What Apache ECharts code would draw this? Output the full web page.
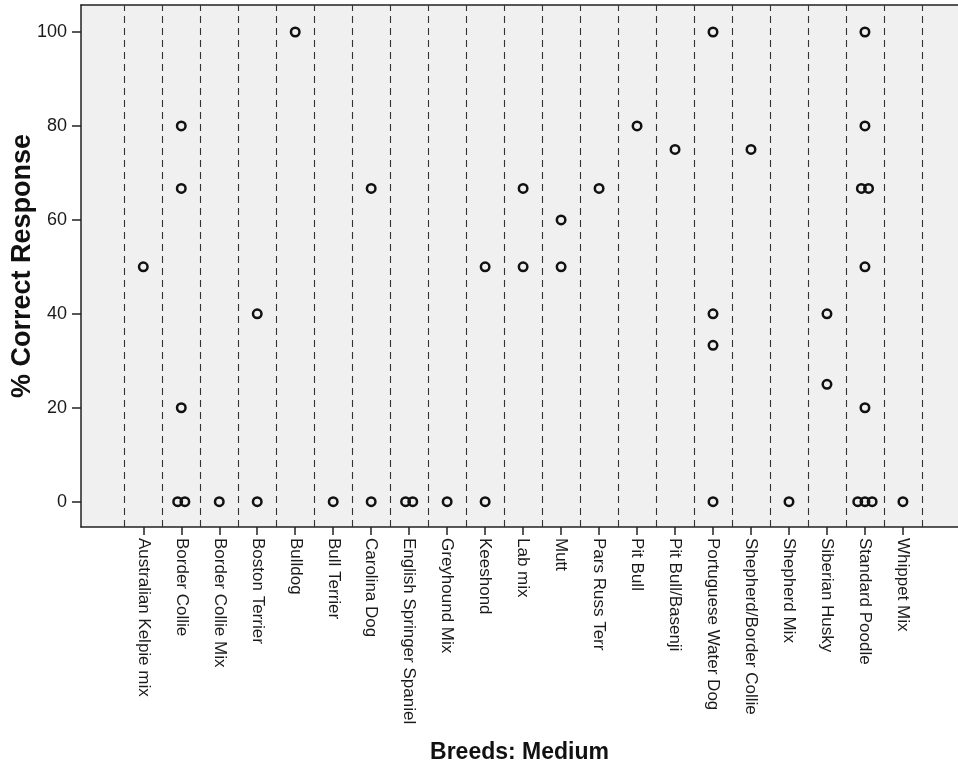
<!DOCTYPE html>
<html><head><meta charset="utf-8">
<script src="https://cdn.jsdelivr.net/npm/echarts@6/dist/echarts.min.js"></script>
<style>html,body{margin:0;padding:0;background:#fff}#c{width:958px;height:771px}</style>
</head><body><div id="c"></div>
<script>
const breeds = ['Australian Kelpie mix','Border Collie','Border Collie Mix','Boston Terrier','Bulldog','Bull Terrier','Carolina Dog','English Springer Spaniel','Greyhound Mix','Keeshond','Lab mix','Mutt','Pars Russ Terr','Pit Bull','Pit Bull/Basenji','Portuguese Water Dog','Shepherd/Border Collie','Shepherd Mix','Siberian Husky','Standard Poodle','Whippet Mix'];
const responses = [
  [50],
  [80, 66.7, 20, 0, 0],
  [0],
  [40, 0],
  [100],
  [0],
  [66.7, 0],
  [0, 0],
  [0],
  [50, 0],
  [66.7, 50],
  [60, 50],
  [66.7],
  [80],
  [75],
  [100, 40, 33.3, 0],
  [75],
  [0],
  [40, 25],
  [100, 80, 66.7, 66.7, 50, 20, 0, 0, 0],
  [0]
];
const yTicks = [0, 20, 40, 60, 80, 100];
const xTitle = 'Breeds: Medium';
const yTitle = '% Correct Response';

const catIdx = breeds.map((b, i) => i);
const points = [];
responses.forEach((vals, i) => {
  const counts = {}, seen = {};
  vals.forEach(v => { counts[v] = (counts[v] || 0) + 1; });
  vals.forEach(v => {
    const n = counts[v], k = seen[v] || 0; seen[v] = k + 1;
    points.push({ value: [i, v], symbolOffset: [(k - (n - 1) / 2) * 7.2, 0] });
  });
});
const dividers = [];
for (let i = -1; i < breeds.length; i++) dividers.push({ xAxis: i + 0.5 });

const FONT = 'Liberation Sans, Arial, sans-serif';
const X_MIN = -1.64, X_MAX = 21.45;
const chart = echarts.init(document.getElementById('c'), null, { renderer: 'canvas' });
chart.setOption({
  animation: false,
  backgroundColor: '#ffffff',
  textStyle: { fontFamily: FONT },
  grid: { left: 81, top: 5, right: 0, bottom: 244, outerBoundsMode: 'none',
    show: true, backgroundColor: '#f0f0f0', borderWidth: 0 },
  xAxis: [{
    type: 'value', min: X_MIN, max: X_MAX, position: 'bottom',
    name: xTitle, nameLocation: 'middle', nameGap: 214, nameMoveOverlap: false,
    nameTextStyle: { fontSize: 23, fontWeight: 'bold', color: '#111', fontFamily: FONT },
    axisLine: { show: true, onZero: false, lineStyle: { color: '#222', width: 1.5 } },
    axisTick: { show: true, customValues: catIdx, length: 8, lineStyle: { color: '#222', width: 1.5 } },
    axisLabel: { customValues: catIdx, rotate: -90, fontSize: 17, color: '#1a1a1a', margin: 11, fontFamily: FONT,
      formatter: v => breeds[Math.round(v)] || '' },
    splitLine: { show: false }
  }, {
    type: 'value', min: X_MIN, max: X_MAX, position: 'top',
    axisLine: { show: true, onZero: false, lineStyle: { color: '#222', width: 1.5 } },
    axisTick: { show: false }, axisLabel: { show: false }, splitLine: { show: false }
  }],
  yAxis: {
    type: 'value', min: -5.39, max: 105.75,
    name: yTitle, nameLocation: 'middle', nameGap: 45, nameMoveOverlap: false,
    nameTextStyle: { fontSize: 27, fontWeight: 'bold', color: '#111', fontFamily: FONT },
    axisLine: { show: true, onZero: false, lineStyle: { color: '#222', width: 1.5 } },
    axisTick: { show: true, customValues: yTicks, length: 9, lineStyle: { color: '#222', width: 1.5 } },
    axisLabel: { customValues: yTicks, fontSize: 18, color: '#1a1a1a', margin: 14, fontFamily: FONT },
    splitLine: { show: false }
  },
  series: [{
    type: 'scatter',
    data: points,
    symbol: 'circle', symbolSize: 8.5,
    itemStyle: { color: 'rgba(0,0,0,0)', borderColor: '#111', borderWidth: 2.5, opacity: 1 },
    z: 5,
    markLine: {
      silent: true, symbol: ['none', 'none'], label: { show: false },
      lineStyle: { color: '#333', width: 1.1, type: [7, 5] },
      data: dividers, animation: false
    }
  }]
});
</script></body></html>
